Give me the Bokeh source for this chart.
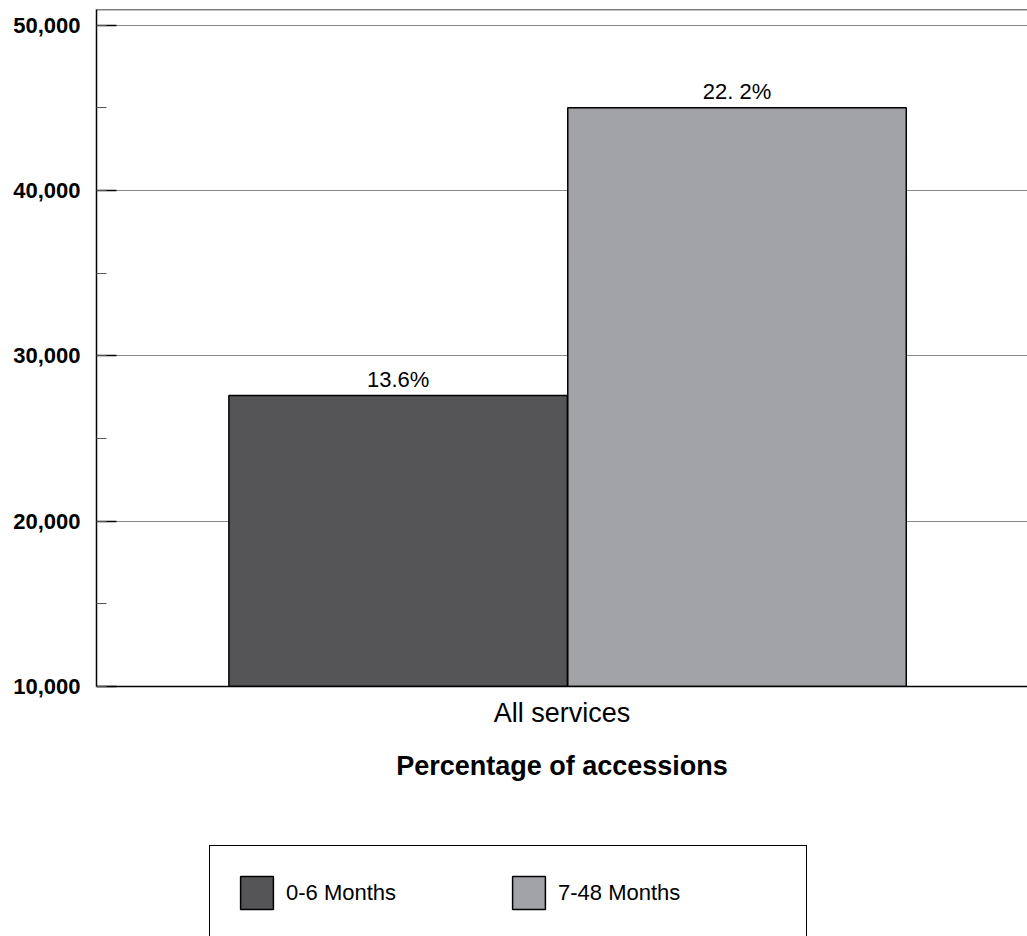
from bokeh.plotting import figure
from bokeh.layouts import column
from bokeh.models import (FactorRange, Range1d, SingleIntervalTicker, NumeralTickFormatter,
                          Legend, LegendItem, Span, ColumnDataSource)
from bokeh.transform import dodge
from bokeh.core.properties import value
from bokeh.embed import file_html
from bokeh.resources import INLINE

# ---- data ----
categories = ["All services"]
series = ["0-6 Months", "7-48 Months"]
accessions_0_6 = [27600]
accessions_7_48 = [45000]
pct_labels_0_6 = ["13.6%"]
pct_labels_7_48 = ["22. 2%"]
colors = ["#555557", "#a2a3a6"]
y_min, y_max = 10000, 50950
x_axis_title = "Percentage of accessions"

FONT = "Liberation Sans"

p = figure(width=1027, height=800,
           x_range=FactorRange(factors=categories, range_padding=0),
           y_range=Range1d(y_min, y_max),
           output_backend="svg", toolbar_location=None,
           min_border_left=96, min_border_right=0, min_border_top=9, min_border_bottom=114)
p.outline_line_color = None
p.background_fill_color = "white"
p.border_fill_color = "white"

src1 = ColumnDataSource(dict(cat=categories, val=accessions_0_6, lab=pct_labels_0_6))
src2 = ColumnDataSource(dict(cat=categories, val=accessions_7_48, lab=pct_labels_7_48))

off1, off2, bw = -0.176, 0.188, 0.3636

r1 = p.vbar(x=dodge("cat", off1, range=p.x_range), top="val", bottom=0, width=bw,
            fill_color=colors[0], line_color="black", line_width=1.5, source=src1)
r2 = p.vbar(x=dodge("cat", off2, range=p.x_range), top="val", bottom=0, width=bw,
            fill_color=colors[1], line_color="black", line_width=1.5, source=src2)

for src, off in ((src1, off1), (src2, off2)):
    p.text(x=dodge("cat", off, range=p.x_range), y="val", text="lab", source=src,
           text_align="center", text_baseline="bottom", y_offset=-4,
           text_font=value(FONT), text_font_size="22px", text_color="black")

# top border line
p.add_layout(Span(location=y_max, dimension="width", line_color="black", line_width=1.5))

# grids
p.xgrid.grid_line_color = None
p.ygrid.grid_line_color = "#8a8a8a"
p.ygrid.grid_line_width = 1

# y axis
ya = p.yaxis[0]
ya.ticker = SingleIntervalTicker(interval=10000, num_minor_ticks=2)
ya.formatter = NumeralTickFormatter(format="0,0")
ya.major_tick_in = 20
ya.major_tick_out = 0
ya.minor_tick_in = 10
ya.minor_tick_out = 0
ya.major_tick_line_color = "black"
ya.major_tick_line_width = 1.5
ya.minor_tick_line_color = "#555555"
ya.minor_tick_line_width = 1
ya.axis_line_color = "black"
ya.axis_line_width = 1.5
ya.major_label_text_font = FONT
ya.major_label_text_font_style = "bold"
ya.major_label_text_font_size = "22px"
ya.major_label_text_color = "black"
ya.major_label_standoff = 16

# x axis
xa = p.xaxis[0]
xa.major_tick_in = 0
xa.major_tick_out = 0
xa.minor_tick_line_color = None
xa.axis_line_color = "black"
xa.axis_line_width = 1.5
xa.major_label_text_font = FONT
xa.major_label_text_font_size = "27px"
xa.major_label_text_color = "black"
xa.major_label_standoff = 11
xa.axis_label = x_axis_title
xa.axis_label_text_font = FONT
xa.axis_label_text_font_style = "bold"
xa.axis_label_text_font_size = "27px"
xa.axis_label_text_color = "black"
xa.axis_label_standoff = 20

# ---- legend strip below the chart ----
p2 = figure(width=1027, height=136,
            x_range=FactorRange(factors=categories, range_padding=0), y_range=Range1d(0, 1),
            output_backend="svg", toolbar_location=None,
            min_border_left=96, min_border_right=0, min_border_top=0, min_border_bottom=0)
p2.axis.visible = False
p2.grid.visible = False
p2.outline_line_color = None
p2.background_fill_color = "white"
p2.border_fill_color = "white"
# legend swatches (hidden renderers sharing the series styling)
swatch1 = p2.vbar(x=dodge("cat", off1, range=p2.x_range), top="val", width=bw, source=src1,
                  fill_color=colors[0], line_color="black", line_width=1.5, visible=False)
swatch2 = p2.vbar(x=dodge("cat", off2, range=p2.x_range), top="val", width=bw, source=src2,
                  fill_color=colors[1], line_color="black", line_width=1.5, visible=False)

legend = Legend(items=[LegendItem(label=series[0], renderers=[swatch1]),
                       LegendItem(label=series[1], renderers=[swatch2])],
                location=(113, -4), orientation="horizontal",
                glyph_width=41, glyph_height=41, label_standoff=9, label_width=222,
                spacing=0, padding=26, margin=0,
                border_line_color="black", border_line_width=1.5, border_line_alpha=1,
                background_fill_color="white", background_fill_alpha=1,
                inactive_fill_alpha=0,
                label_text_font=FONT, label_text_font_size="22px",
                label_text_color="black", label_text_baseline="bottom")
p2.add_layout(legend)

open("out.html", "w").write(file_html(column(p, p2, spacing=0), INLINE))
